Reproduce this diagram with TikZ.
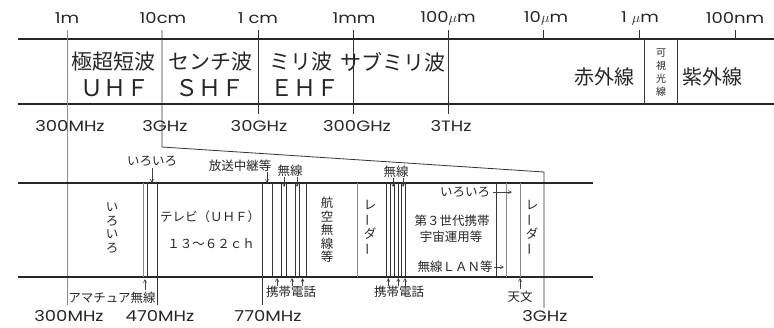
\documentclass[tikz,border=0pt]{standalone}
\usepackage{fontspec}
\setmainfont{Noto Sans CJK JP}
\newfontfamily\lat{Poppins}[FakeStretch=1.2]
\usetikzlibrary{arrows.meta}
\tikzset{
  band/.style={line width=2.2pt, black!85},
  vl/.style={line width=0.8pt, black!80},
  gl/.style={line width=0.8pt, black!45},
  arr/.style={-{Straight Barb[length=3pt,width=3pt]}, line width=0.6pt, black!75},
  big/.style={inner sep=0pt, text=black!85, font=\fontsize{21}{21}\selectfont},
  mid/.style={inner sep=0pt, text=black!85, font=\lat\fontsize{15}{16}\selectfont},
  sml/.style={inner sep=0pt, text=black!85, font=\fontsize{12.5}{13}\selectfont},
  vsml/.style={inner sep=0pt, text=black!85, align=center, font=\fontsize{12.5}{13.5}\selectfont},
}
\newcommand{\vbar}{\rotatebox[origin=c]{90}{ー}}
\newcommand{\mum}{$\mu$m}
\begin{document}
\begin{tikzpicture}[x=1pt,y=-1pt]
\useasboundingbox (0,0) rectangle (774,327);
% ---------- top band ----------
\draw[band] (18,39) -- (774,39);
\draw[band] (18,104) -- (774,104);
\draw[gl] (67,30) -- (67,305);
\draw[vl] (162,30) -- (162,147) coordinate (s1) -- (544,172) coordinate (s2) -- (544,308);
\draw[vl] (258,30) -- (258,114);
\draw[vl] (353,30) -- (353,114);
\draw[vl] (448,30) -- (448,114);
\foreach \x in {543,639,735} \draw[vl] (\x,30) -- (\x,39);
\draw[vl] (644,39) -- (644,104);
\draw[vl] (677,39) -- (677,104);
% top scale labels
\node[mid] (w1) at (67,18) {1m};
\node[mid] (w2) at (163,18) {10cm};
\node[mid] (w3) at (258,18) {1 cm};
\node[mid] (w4) at (354,18) {1mm};
\node[mid] (w5) at (448,18) {100\mum};
\node[mid] (w6) at (546,18) {10\mum};
\node[mid] (w7) at (640,18) {1 \mum};
\node[mid] (w8) at (735,18) {100nm};
% band names
\node[big] (n1) at (113,62) {極超短波};
\node[big,font=\fontsize{23}{23}\selectfont] (n1b) at (115,88) {ＵＨＦ};
\node[big] (n2) at (210,62) {センチ波};
\node[big,font=\fontsize{23}{23}\selectfont] (n2b) at (210,88) {ＳＨＦ};
\node[big] (n3) at (301,62) {ミリ波};
\node[big,font=\fontsize{23}{23}\selectfont] (n3b) at (305,88) {ＥＨＦ};
\node[big] (n4) at (393,62) {サブミリ波};
\node[big,font=\fontsize{20}{20}\selectfont] (n5) at (604,77) {赤外線};
\node[inner sep=0pt, text=black!85, align=center, font=\fontsize{10}{13}\selectfont] (n6) at (661,73) {可\\視\\光\\線};
\node[big,font=\fontsize{20}{20}\selectfont] (n7) at (712,77) {紫外線};
% frequencies under top band
\node[mid] (f1) at (70,126) {300MHz};
\node[mid] (f2) at (165,126) {3GHz};
\node[mid] (f3) at (259,126) {30GHz};
\node[mid] (f4) at (357,126) {300GHz};
\node[mid] (f5) at (451,126) {3THz};
% ---------- lower band ----------
\draw[band] (18,183) -- (593,183);
\draw[band] (18,277) -- (593,277);
\draw[gl] (143.3,183) -- (143.3,277);
\draw[vl] (147.5,183) -- (147.5,277);
\draw[vl] (157,183) -- (157,305);
\draw[vl] (262,183) -- (262,305);
\foreach \x in {272,281,286,295,299,306,386.5,390,394,398,401.5,405,496.7}
  \draw[vl] (\x,183) -- (\x,277);
\foreach \x in {357.7,506,520}
  \draw[gl] (\x,183) -- (\x,277);
% labels inside lower band
\node[vsml] (v1) at (112,228) {い\\ろ\\い\\ろ};
\node[sml] (tv) at (210,217) {テレビ（ＵＨＦ）};
\node[sml] (ch) at (211,244) {１３～６２ｃｈ};
\node[vsml] (v2) at (327,230) {航\\空\\無\\線\\等};
\node[vsml] (v3) at (370,228) {レ\\\vbar\\ダ\\\vbar};
\node[sml] (g3) at (452,221) {第３世代携帯};
\node[sml] (uc) at (451,237) {宇宙運用等};
\node[sml] (iro3) at (465,192) {いろいろ};
\node[sml] (lan) at (455,267) {無線ＬＡＮ等};
\node[vsml] (v4) at (532,228) {レ\\\vbar\\ダ\\\vbar};
\draw[arr] (iro3.east) ++(3,0) coordinate (ia) -- (512,192);
\draw[arr] (lan.east) ++(1,0) coordinate (la) -- (504,267);
% labels above lower band
\node[sml] (iro1) at (152,161) {いろいろ};
\draw[arr] (iro1.south) ++(0,2) -- (152,183);
\node[sml] (hoso) at (240,166) {放送中継等};
\draw[arr] (267,172) -- (267,183);
\node[sml] (mu1) at (290,171) {無線};
\draw[arr] (284,177) -- (284,187);
\draw[arr] (297,177) -- (297,187);
\node[sml] (mu2) at (396,172) {無線};
\draw[arr] (393,178) -- (393,187);
\draw[arr] (403,178) -- (403,187);
% labels below lower band
\node[sml] (ama) at (112,298) {アマチュア無線};
\draw[arr] (145,290) -- (145,279);
\node[sml] (k1) at (291,292) {携帯電話};
\foreach \x in {277,292,302.5} \draw[arr] (\x,286) -- (\x,278);
\node[sml] (k2) at (399,292) {携帯電話};
\foreach \x in {388.3,398.3,405} \draw[arr] (\x,286) -- (\x,278);
\node[sml] (ten) at (520,297) {天文};
\draw[arr] (520,289) -- (520,278);
% bottom frequencies
\node[mid] (b1) at (69,316) {300MHz};
\node[mid] (b2) at (160,316) {470MHz};
\node[mid] (b3) at (268,316) {770MHz};
\node[mid] (b4) at (545,316) {3GHz};
\end{tikzpicture}
\end{document}
